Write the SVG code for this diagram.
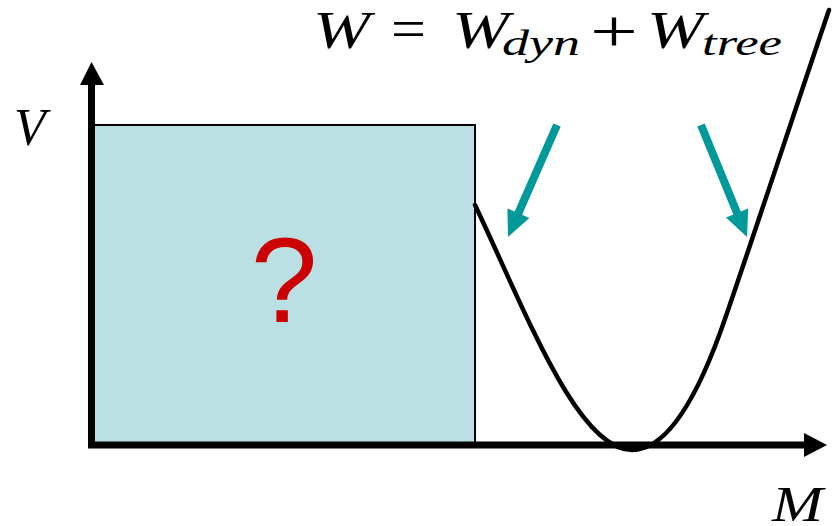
<svg xmlns="http://www.w3.org/2000/svg" width="836" height="526" viewBox="0 0 836 526">
<style>
.math{font-family:"Liberation Serif","DejaVu Serif",serif;font-style:italic;fill:#000}
.rm{font-family:"Liberation Serif","DejaVu Serif",serif;fill:#000}
.teal{fill:#009999}
</style>
<rect width="836" height="526" fill="#fff"/>
<g id="box">
<rect x="92" y="125" width="383" height="318" fill="#BBE0E3" stroke="#000" stroke-width="2"/>
<text x="284" y="322" font-family="Liberation Sans, Arial, sans-serif" font-size="120" fill="#CC0000" text-anchor="middle">?</text>
</g>
<g id="axes">
<line x1="91.5" y1="448" x2="91.5" y2="82" stroke="#000" stroke-width="7"/>
<polygon points="80,85 91.5,62 104,85" fill="#000"/>
<line x1="88" y1="445" x2="806" y2="445" stroke="#000" stroke-width="7"/>
<polygon points="804,433 827,445 804,457" fill="#000"/>
</g>
<g id="curve">
<path d="M475,205 C525,310 577,450 632,450 C660,450 690,415 720,333 C735,292 800,95 829,10" fill="none" stroke="#000" stroke-width="4.5" stroke-linecap="round"/>
</g>
<g id="connectors">
<polygon class="teal" points="508,237 529.4,218 522.1,214.8 560.7,126.6 553.3,123.4 514.7,211.6 507.4,208.4"/>
<polygon class="teal" points="747,237 748.2,208.4 740.8,211.5 704.7,123.5 697.3,126.5 733.4,214.5 726,217.6"/>
</g>
<g id="labels">
<text class="math" x="14" y="145" font-size="52">V</text>
<text class="math" x="772" y="521" font-size="50" textLength="51" lengthAdjust="spacingAndGlyphs">M</text>
<text class="math" x="313" y="48" font-size="52" textLength="57" lengthAdjust="spacingAndGlyphs">W</text>
<text class="rm" x="391" y="48" font-size="56" textLength="35" lengthAdjust="spacingAndGlyphs">=</text>
<text class="math" x="452" y="48" font-size="52" textLength="57" lengthAdjust="spacingAndGlyphs">W</text>
<text class="math" x="502" y="55" font-size="36" textLength="78" lengthAdjust="spacingAndGlyphs">dyn</text>
<text class="rm" x="590" y="51" font-size="60" textLength="48" lengthAdjust="spacingAndGlyphs">+</text>
<text class="math" x="647" y="48" font-size="52" textLength="57" lengthAdjust="spacingAndGlyphs">W</text>
<text class="math" x="702" y="55" font-size="36" textLength="80" lengthAdjust="spacingAndGlyphs">tree</text>
</g>
</svg>
